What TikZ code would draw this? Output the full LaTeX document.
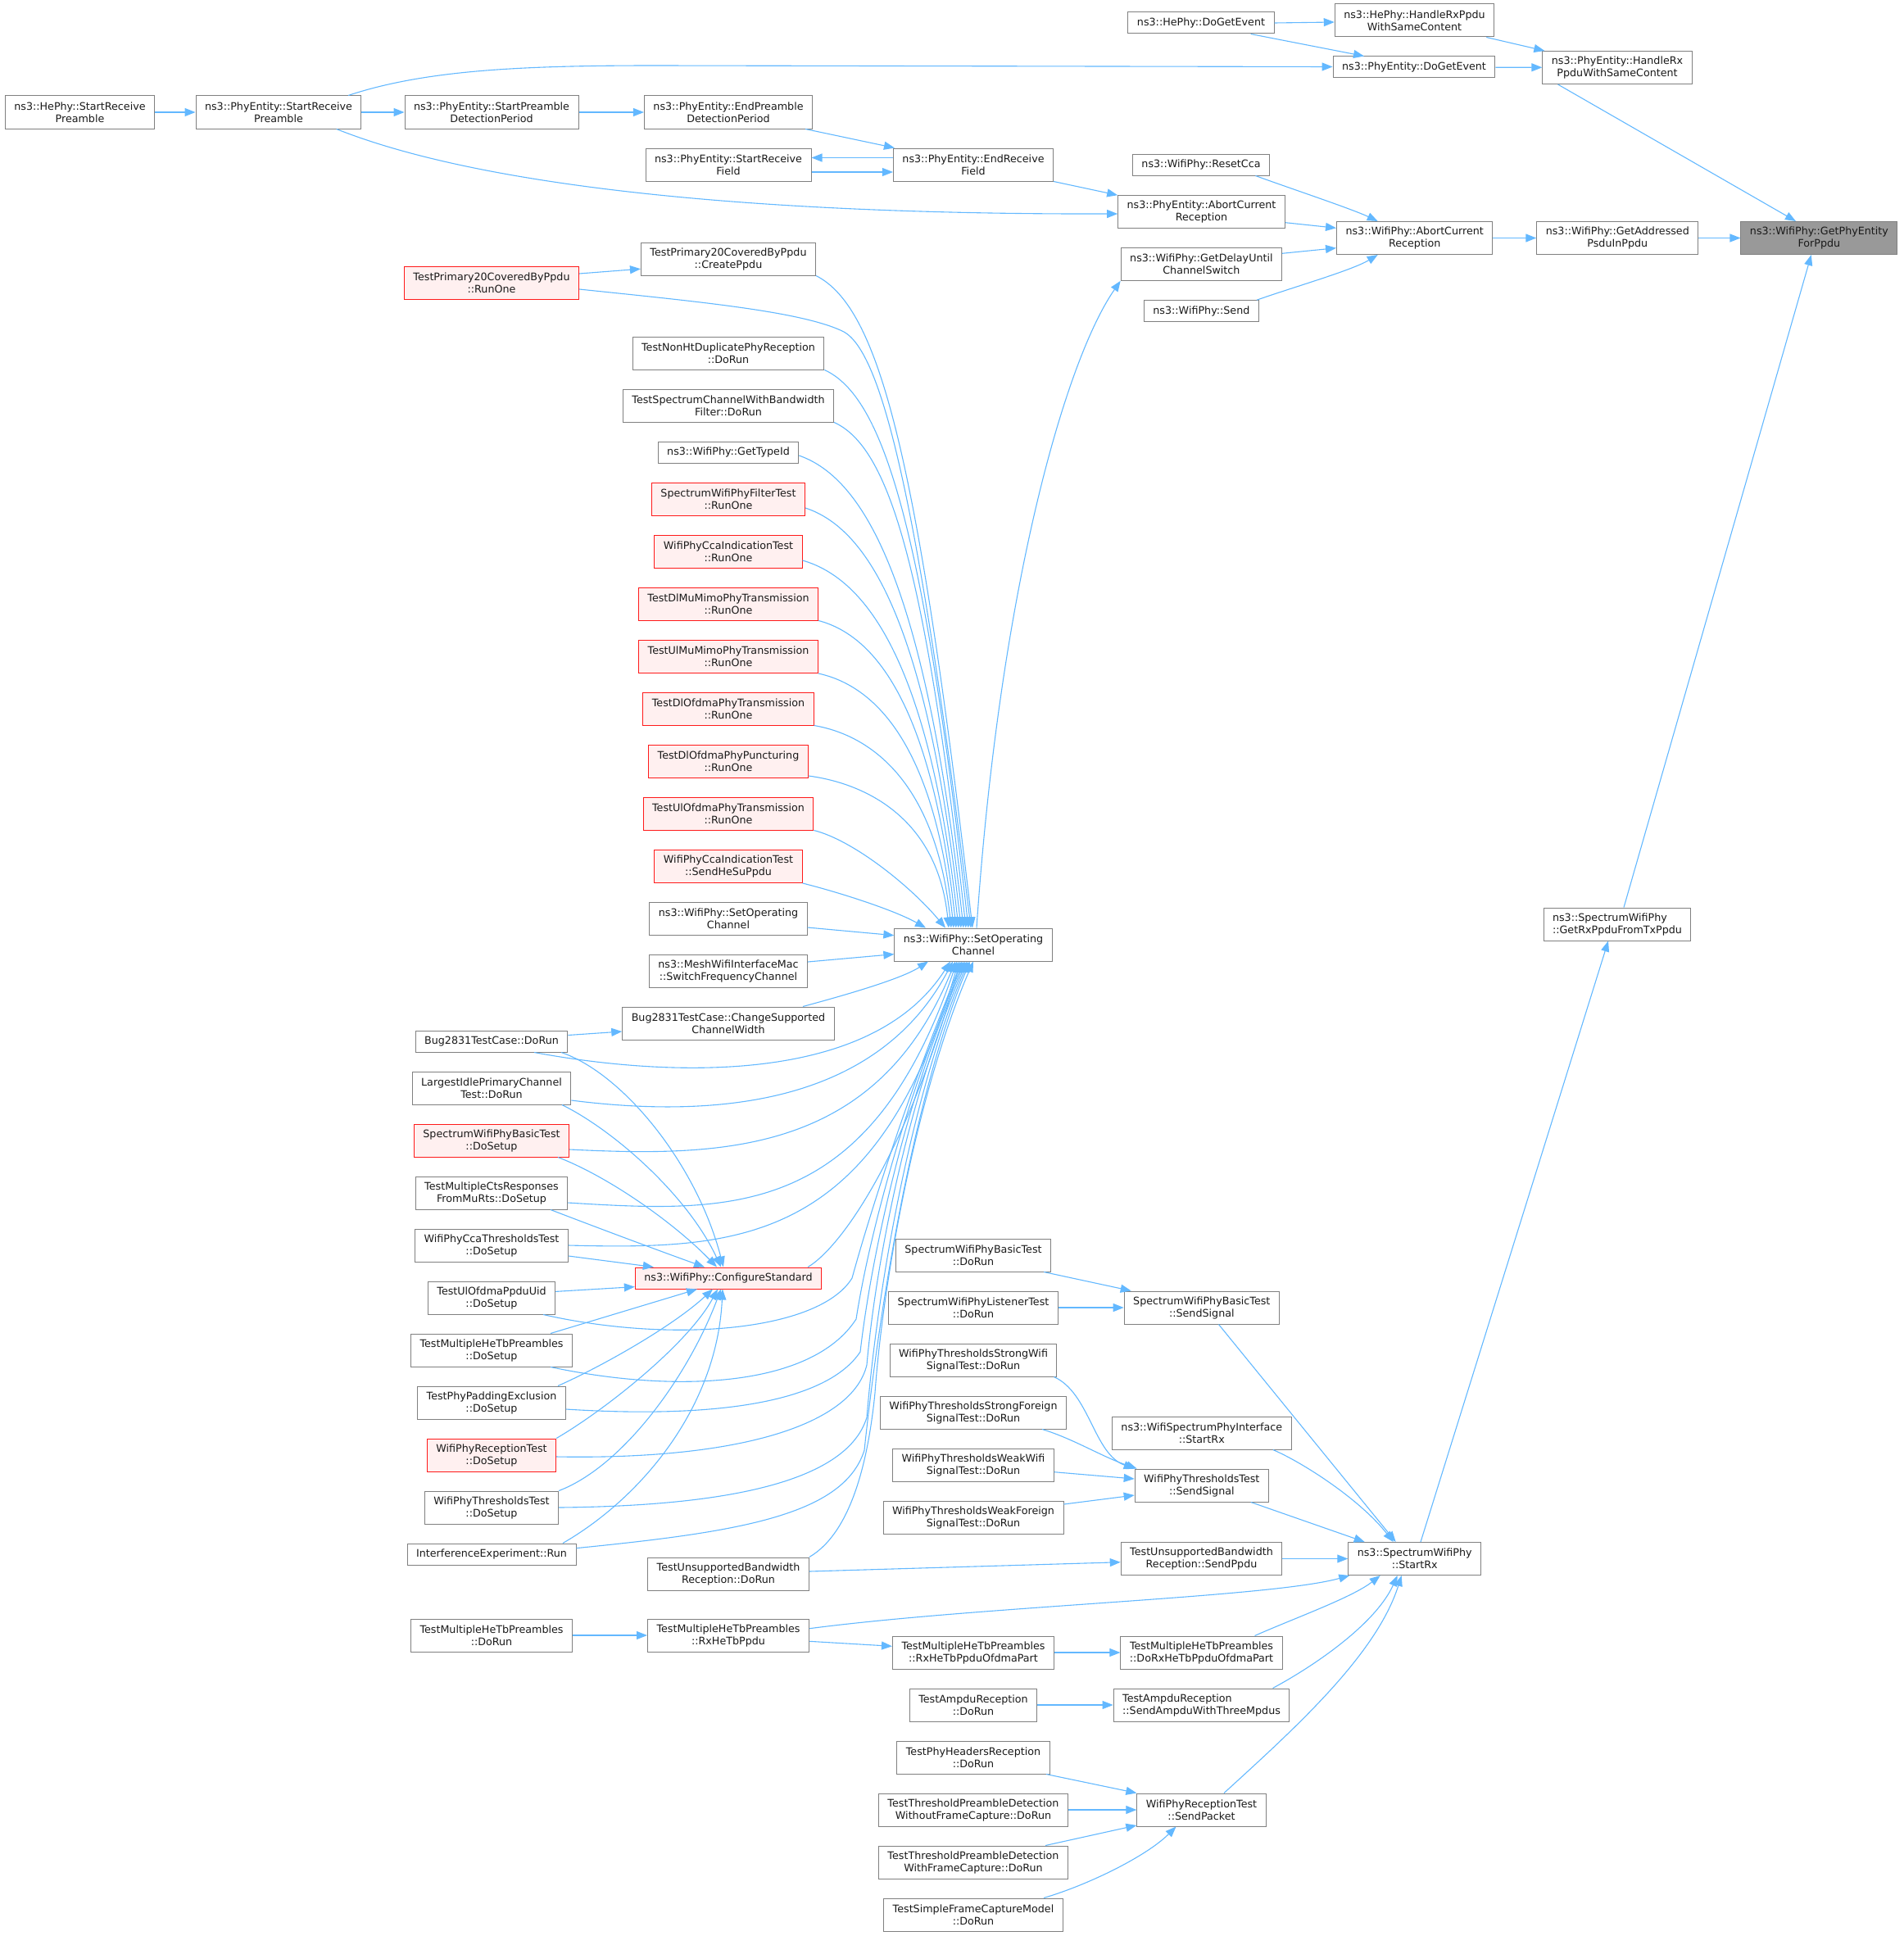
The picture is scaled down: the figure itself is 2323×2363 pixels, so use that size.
\documentclass[tikz,border=0pt]{standalone}
\usepackage{fontspec}
\setmainfont{DejaVu Sans}
\usetikzlibrary{arrows.meta,calc}
\definecolor{edgeblue}{HTML}{63B8FF}
\definecolor{boxgray}{HTML}{808080}
\definecolor{hotfill}{HTML}{FFF0F0}
\definecolor{hotline}{HTML}{FF1A1A}
\definecolor{tgtfill}{HTML}{999999}
\definecolor{txt}{HTML}{1A1A1A}
\begin{document}
\begin{tikzpicture}[x=1pt,y=1pt,
 box/.style={draw=boxgray,fill=white,line width=1pt,inner xsep=11pt,inner ysep=0pt,minimum height=40pt,align=center,text=txt,font=\fontsize{12.7}{15}\selectfont},
 one/.style={minimum height=26pt},
 hot/.style={draw=hotline,fill=hotfill},
 tgtbox/.style={fill=tgtfill},
 lft/.style={align=left},
 e/.style={draw=edgeblue,line width=1.1pt,-{Triangle[length=13pt,width=10pt]}}]
\useasboundingbox (0,0) rectangle (2323,-2363);
% ---------- top part
\node[box] (hsrp) at (97.5,-137) {ns3::HePhy::StartReceive\\Preamble};
\node[box] (psrp) at (340,-137) {ns3::PhyEntity::StartReceive\\Preamble};
\node[box] (spdp) at (600,-137) {ns3::PhyEntity::StartPreamble\\DetectionPeriod};
\node[box] (epdp) at (889,-137) {ns3::PhyEntity::EndPreamble\\DetectionPeriod};
\node[box] (srf) at (889,-201) {ns3::PhyEntity::StartReceive\\Field};
\node[box] (erf) at (1188,-201) {ns3::PhyEntity::EndReceive\\Field};
\node[box,one] (hdge) at (1466,-28) {ns3::HePhy::DoGetEvent};
\node[box] (hhrx) at (1726.5,-25) {ns3::HePhy::HandleRxPpdu\\WithSameContent};
\node[box,one] (pdge) at (1726,-82) {ns3::PhyEntity::DoGetEvent};
\node[box] (phrx) at (1974,-82.5) {ns3::PhyEntity::HandleRx\\PpduWithSameContent};
\node[box,one] (rcca) at (1466,-201) {ns3::WifiPhy::ResetCca};
\node[box] (pacr) at (1466.5,-258.7) {ns3::PhyEntity::AbortCurrent\\Reception};
\node[box] (wacr) at (1726.7,-290.5) {ns3::WifiPhy::AbortCurrent\\Reception};
\node[box] (gapp) at (1974.3,-290.5) {ns3::WifiPhy::GetAddressed\\PsduInPpdu};
\node[box,tgtbox] (tgt) at (2220.4,-290.5) {ns3::WifiPhy::GetPhyEntity\\ForPpdu};
\node[box] (gdcs) at (1466.4,-322.3) {ns3::WifiPhy::GetDelayUntil\\ChannelSwitch};
\node[box,one] (send) at (1466.4,-379.7) {ns3::WifiPhy::Send};
\node[box,lft] (grx) at (1974,-1128) {ns3::SpectrumWifiPhy\\::GetRxPpduFromTxPpdu};
\node[box] (soc) at (1188,-1153) {ns3::WifiPhy::SetOperating\\Channel};
% ---------- column 889
\node[box] (cppdu) at (889,-316) {TestPrimary20CoveredByPpdu\\::CreatePpdu};
\node[box] (nonht) at (889,-431) {TestNonHtDuplicatePhyReception\\::DoRun};
\node[box] (specbw) at (889,-495) {TestSpectrumChannelWithBandwidth\\Filter::DoRun};
\node[box,one] (gtid) at (889,-552) {ns3::WifiPhy::GetTypeId};
\node[box,hot] (filt) at (889,-609) {SpectrumWifiPhyFilterTest\\::RunOne};
\node[box,hot] (ccaro) at (889,-673.5) {WifiPhyCcaIndicationTest\\::RunOne};
\node[box,hot] (dlmu) at (889,-737) {TestDlMuMimoPhyTransmission\\::RunOne};
\node[box,hot] (ulmu) at (889,-801.5) {TestUlMuMimoPhyTransmission\\::RunOne};
\node[box,hot] (dlof) at (889,-865) {TestDlOfdmaPhyTransmission\\::RunOne};
\node[box,hot] (dlpu) at (889,-929.5) {TestDlOfdmaPhyPuncturing\\::RunOne};
\node[box,hot] (ulof) at (889,-993) {TestUlOfdmaPhyTransmission\\::RunOne};
\node[box,hot] (hesu) at (889,-1057.5) {WifiPhyCcaIndicationTest\\::SendHeSuPpdu};
\node[box] (soc2) at (889,-1121) {ns3::WifiPhy::SetOperating\\Channel};
\node[box] (mesh) at (889,-1185) {ns3::MeshWifiInterfaceMac\\::SwitchFrequencyChannel};
\node[box] (bugcw) at (889,-1249) {Bug2831TestCase::ChangeSupported\\ChannelWidth};
\node[box,hot,one] (cfg) at (889,-1560) {ns3::WifiPhy::ConfigureStandard};
\node[box] (unsdr) at (889,-1921) {TestUnsupportedBandwidth\\Reception::DoRun};
\node[box] (rxtb) at (889,-1996) {TestMultipleHeTbPreambles\\::RxHeTbPpdu};
% ---------- column 600
\node[box,hot] (pr1) at (600,-345) {TestPrimary20CoveredByPpdu\\::RunOne};
\node[box,one] (bugdr) at (600,-1271) {Bug2831TestCase::DoRun};
\node[box] (lipc) at (600,-1328) {LargestIdlePrimaryChannel\\Test::DoRun};
\node[box,hot] (sbds) at (600,-1392) {SpectrumWifiPhyBasicTest\\::DoSetup};
\node[box] (mcts) at (600,-1456) {TestMultipleCtsResponses\\FromMuRts::DoSetup};
\node[box] (ccth) at (600,-1520) {WifiPhyCcaThresholdsTest\\::DoSetup};
\node[box] (uluid) at (600,-1584) {TestUlOfdmaPpduUid\\::DoSetup};
\node[box] (mhds) at (600,-1648) {TestMultipleHeTbPreambles\\::DoSetup};
\node[box] (ppad) at (600,-1712) {TestPhyPaddingExclusion\\::DoSetup};
\node[box,hot] (rtds) at (600,-1776) {WifiPhyReceptionTest\\::DoSetup};
\node[box] (thds) at (600,-1840) {WifiPhyThresholdsTest\\::DoSetup};
\node[box,one] (iexp) at (600,-1897) {InterferenceExperiment::Run};
\node[box] (mhdr) at (600,-1996) {TestMultipleHeTbPreambles\\::DoRun};
% ---------- column 1188
\node[box] (sbdr) at (1188,-1532) {SpectrumWifiPhyBasicTest\\::DoRun};
\node[box] (sldr) at (1188,-1596) {SpectrumWifiPhyListenerTest\\::DoRun};
\node[box] (tsw) at (1188,-1660) {WifiPhyThresholdsStrongWifi\\SignalTest::DoRun};
\node[box] (tsf) at (1188,-1724) {WifiPhyThresholdsStrongForeign\\SignalTest::DoRun};
\node[box] (tww) at (1188,-1788) {WifiPhyThresholdsWeakWifi\\SignalTest::DoRun};
\node[box] (twf) at (1188,-1852) {WifiPhyThresholdsWeakForeign\\SignalTest::DoRun};
\node[box] (rxofp) at (1188,-2017) {TestMultipleHeTbPreambles\\::RxHeTbPpduOfdmaPart};
\node[box] (ampdr) at (1188,-2081) {TestAmpduReception\\::DoRun};
\node[box] (phdr) at (1188,-2145) {TestPhyHeadersReception\\::DoRun};
\node[box] (tpwo) at (1188,-2209) {TestThresholdPreambleDetection\\WithoutFrameCapture::DoRun};
\node[box] (tpwi) at (1188,-2273) {TestThresholdPreambleDetection\\WithFrameCapture::DoRun};
\node[box] (sfcm) at (1188,-2337) {TestSimpleFrameCaptureModel\\::DoRun};
% ---------- column 1466
\node[box] (sbss) at (1466.8,-1596) {SpectrumWifiPhyBasicTest\\::SendSignal};
\node[box] (wspi) at (1466.8,-1749) {ns3::WifiSpectrumPhyInterface\\::StartRx};
\node[box] (thss) at (1466.8,-1813) {WifiPhyThresholdsTest\\::SendSignal};
\node[box] (unsp) at (1466.5,-1902.5) {TestUnsupportedBandwidth\\Reception::SendPpdu};
\node[box] (drxo) at (1466.5,-2017) {TestMultipleHeTbPreambles\\::DoRxHeTbPpduOfdmaPart};
\node[box,lft] (ampsd) at (1466.5,-2081) {TestAmpduReception\\::SendAmpduWithThreeMpdus};
\node[box] (spkt) at (1466.5,-2209) {WifiPhyReceptionTest\\::SendPacket};
\node[box] (srx) at (1726.7,-1902.5) {ns3::SpectrumWifiPhy\\::StartRx};

% ================= edges: top
\draw[e] (hsrp) -- (psrp);
\draw[e] (psrp) -- (spdp);
\draw[e] (spdp) -- (epdp);
\draw[e] ([xshift=-9pt]epdp.south east) -- ([xshift=2pt]erf.north west);
\draw[e] ([yshift=8.5pt]erf.west) -- ([yshift=8.5pt]srf.east);
\draw[e] ([yshift=-9pt]srf.east) -- ([yshift=-9pt]erf.west);
\draw[e] (erf.south east) -- (pacr.north west);
\draw[e] ([xshift=70.7pt]psrp.south) .. controls (580,-225) and (900,-262) .. ([yshift=-2.3pt]pacr.west);
\draw[e] ([xshift=85pt]psrp.north) .. controls (520,-85) and (640,-80) .. (800,-80) -- ([yshift=0.5pt]pdge.west);
\draw[e] (hdge.east) -- ([yshift=-2pt]hhrx.west);
\draw[e] ([xshift=60.6pt]hdge.south) -- ([xshift=-61pt]pdge.north);
\draw[e] (pdge) -- (phrx);
\draw[e] ([xshift=-10pt]hhrx.south east) -- ([xshift=3pt]phrx.north west);
\draw[e] ([xshift=-72.5pt]phrx.south) -- ([xshift=-28.4pt]tgt.north);
\draw[e] (gapp) -- (tgt);
\draw[e] (wacr) -- (gapp);
\draw[e] ([xshift=66.4pt]rcca.south) .. controls (1575,-230) and (1650,-255) .. ([xshift=-45pt]wacr.north);
\draw[e] ([yshift=-13pt]pacr.east) -- ([yshift=12.2pt]wacr.west);
\draw[e] ([yshift=13pt]gdcs.east) -- ([yshift=-12.2pt]wacr.west);
\draw[e] ([xshift=67.6pt]send.north) .. controls (1580,-350) and (1650,-330) .. ([xshift=-45pt]wacr.south);
\draw[e] ([xshift=4pt]soc.north) .. controls (1220,-720) and (1300,-440) .. (gdcs.south west);

% ================= edges: fan into SetOperatingChannel (top)
\draw[e] ([yshift=11pt]pr1.east) -- ([yshift=-12.2pt]cppdu.west);
\draw[e] (cppdu.south east) .. controls (1074,-376) and (1120,-559) .. ([xshift=-1pt]soc.north);
\draw[e] ([yshift=-8pt]pr1.east) .. controls (850,-368) and (980,-380) .. (1030,-405) .. controls (1075,-430) and (1120,-600) .. ([xshift=-3pt]soc.north);
\draw[e] (nonht.south east) .. controls (1078,-484.5) and (1127,-641.5) .. ([xshift=-6pt]soc.north);
\draw[e] (specbw.south east) .. controls (1084.7,-545.7) and (1129,-688) .. ([xshift=-9pt]soc.north);
\draw[e] ([yshift=-4pt]gtid.east) .. controls (1057,-584.5) and (1129.5,-717) .. ([xshift=-12pt]soc.north);
\draw[e] ([yshift=-11pt]filt.east) .. controls (1061,-645.6) and (1132,-763.6) .. ([xshift=-15pt]soc.north);
\draw[e] ([yshift=-10.5pt]ccaro.east) .. controls (1058,-706.5) and (1134,-809.7) .. ([xshift=-18pt]soc.north);
\draw[e] (dlmu.south east) .. controls (1069,-776) and (1137.4,-862) .. ([xshift=-21pt]soc.north);
\draw[e] (ulmu.south east) .. controls (1068,-837) and (1140,-908.6) .. ([xshift=-24pt]soc.north);
\draw[e] (dlof.south east) .. controls (1063,-897.4) and (1142,-954.4) .. ([xshift=-27pt]soc.north);
\draw[e] ([yshift=-17.5pt]dlpu.east) .. controls (1057,-956.3) and (1144.4,-999) .. ([xshift=-30pt]soc.north);
\draw[e] (ulof.south east) .. controls (1040,-1025) and (1110,-1080) .. ([xshift=-34pt]soc.north);
\draw[e] (hesu.south east) .. controls (1020,-1088) and (1090,-1110) .. ([xshift=-58pt]soc.north);
\draw[e] ([yshift=-11pt]soc2.east) -- ([yshift=11.3pt]soc.west);
\draw[e] ([yshift=11pt]mesh.east) -- ([yshift=-11.6pt]soc.west);
\draw[e] ([xshift=91pt]bugcw.north) .. controls (1030,-1215) and (1100,-1195) .. ([xshift=-55pt]soc.south);

% ================= edges: column 600 -> SetOperatingChannel / ConfigureStandard
\draw[e] ([yshift=7.5pt]bugdr.east) -- ([yshift=-10pt]bugcw.west);
\draw[e] ([xshift=52pt]bugdr.south) .. controls (800,-1312) and (1060,-1330) .. ([xshift=-28pt]soc.south);
\draw[e] ([xshift=85pt]bugdr.south) .. controls (760,-1310) and (850,-1420) .. ([xshift=-6pt]cfg.north);
\draw[e] ([yshift=-15pt]lipc.east) .. controls (870,-1365) and (1070,-1350) .. ([xshift=-25pt]soc.south);
\draw[e] ([xshift=86pt]lipc.south) .. controls (750,-1380) and (840,-1460) .. ([xshift=-9pt]cfg.north);
\draw[e] ([yshift=-11pt]sbds.east) .. controls (880,-1412) and (1070,-1410) .. ([xshift=-22pt]soc.south);
\draw[e] ([xshift=81pt]sbds.south) .. controls (740,-1435) and (820,-1490) .. ([xshift=-14pt]cfg.north);
\draw[e] ([yshift=-12pt]mcts.east) .. controls (890,-1480) and (1060,-1490) .. ([xshift=-20pt]soc.south);
\draw[e] ([xshift=72pt]mcts.south) .. controls (720,-1495) and (800,-1525) .. ([xshift=-29pt]cfg.north);
\draw[e] (ccth.east) .. controls (900,-1525) and (1070,-1520) .. ([xshift=-18pt]soc.south);
\draw[e] ([yshift=-13pt]ccth.east) -- ([xshift=23pt]cfg.north west);
\draw[e] ([xshift=-17pt]cfg.north east) .. controls (1030,-1520) and (1110,-1400) .. ([xshift=-16pt]soc.south);
\draw[e] ([yshift=7.6pt]uluid.east) -- ([yshift=-10.6pt]cfg.west);
\draw[e] ([xshift=63pt]uluid.south) .. controls (820,-1640) and (1000,-1625) .. (1040,-1560) .. controls (1062,-1480) and (1110,-1330) .. ([xshift=-14pt]soc.south);
\draw[e] ([xshift=72pt]mhds.north) -- ([xshift=-38pt]cfg.south);
\draw[e] ([xshift=72pt]mhds.south) .. controls (820,-1700) and (990,-1695) .. (1045,-1610) .. controls (1062,-1500) and (1110,-1330) .. ([xshift=-12pt]soc.south);
\draw[e] ([xshift=81pt]ppad.north) .. controls (730,-1670) and (820,-1620) .. ([xshift=-19pt]cfg.south);
\draw[e] ([yshift=-8pt]ppad.east) .. controls (880,-1732) and (1010,-1710) .. (1050,-1650) .. controls (1065,-1520) and (1110,-1330) .. ([xshift=-10pt]soc.south);
\draw[e] (rtds.north east) .. controls (740,-1720) and (840,-1640) .. ([xshift=-13pt]cfg.south);
\draw[e] ([yshift=-2pt]rtds.east) .. controls (900,-1782) and (1040,-1740) .. (1058,-1666) .. controls (1070,-1530) and (1112,-1330) .. ([xshift=-8pt]soc.south);
\draw[e] (thds.north east) .. controls (760,-1790) and (840,-1680) .. ([xshift=-9pt]cfg.south);
\draw[e] (thds.east) .. controls (900,-1838) and (1035,-1805) .. (1058,-1730) .. controls (1072,-1560) and (1115,-1330) .. ([xshift=-6pt]soc.south);
\draw[e] ([xshift=87pt]iexp.north) .. controls (780,-1830) and (875,-1720) .. ([xshift=-7pt]cfg.south);
\draw[e] ([yshift=7.4pt]iexp.east) .. controls (900,-1870) and (1030,-1850) .. (1055,-1770) .. controls (1075,-1580) and (1118,-1330) .. ([xshift=-4pt]soc.south);
\draw[e] (unsdr.north east) .. controls (1040,-1870) and (1060,-1780) .. (1068,-1700) .. controls (1078,-1560) and (1120,-1330) .. (soc.south);

% ================= edges: StartRx region
\draw[e] ([yshift=3pt]unsdr.east) -- ([yshift=-4.2pt]unsp.west);
\draw[e] (unsp) -- (srx);
\draw[e] ([xshift=7.3pt]srx.north) -- ([xshift=-11pt]grx.south);
\draw[e] ([xshift=8pt]grx.north) -- ([xshift=-9.6pt]tgt.south);
\draw[e] ([xshift=-9pt]sbdr.south east) -- ([xshift=9pt]sbss.north west);
\draw[e] (sldr) -- (sbss);
\draw[e] ([xshift=20.7pt]sbss.south) -- ([xshift=-23pt]srx.north);
\draw[e] ([xshift=87pt]wspi.south) .. controls (1590,-1785) and (1660,-1830) .. ([xshift=-26pt]srx.north);
\draw[e] ([xshift=60pt]thss.south) -- ([xshift=-61pt]srx.north);
\draw[e] ([xshift=-4pt]tsw.south east) .. controls (1330,-1700) and (1335,-1775) .. (thss.north west);
\draw[e] ([xshift=-30pt]tsf.south east) .. controls (1310,-1756) and (1345,-1778) .. ([xshift=3pt]thss.north west);
\draw[e] ([yshift=-8.7pt]tww.east) -- ([yshift=8pt]thss.west);
\draw[e] ([yshift=16pt]twf.east) -- ([yshift=-12pt]thss.west);
\draw[e] ([yshift=8.3pt]rxtb.east) .. controls (1200,-1960) and (1550,-1950) .. ([xshift=2pt]srx.south west);
\draw[e] (mhdr) -- (rxtb);
\draw[e] ([yshift=-7.3pt]rxtb.east) -- ([yshift=7.7pt]rxofp.west);
\draw[e] (rxofp) -- (drxo);
\draw[e] ([xshift=65pt]drxo.north) .. controls (1580,-1975) and (1650,-1950) .. ([xshift=-42pt]srx.south);
\draw[e] (ampdr) -- (ampsd);
\draw[e] ([xshift=87pt]ampsd.north) .. controls (1610,-2030) and (1680,-1980) .. ([xshift=-21pt]srx.south);
\draw[e] ([xshift=27.5pt]spkt.north) .. controls (1580,-2110) and (1680,-2020) .. ([xshift=-16pt]srx.south);
\draw[e] ([xshift=-4.6pt]phdr.south east) -- (spkt.north west);
\draw[e] (tpwo) -- (spkt);
\draw[e] ([xshift=-28pt]tpwi.north east) -- ([yshift=1.6pt]spkt.south west);
\draw[e] ([xshift=86pt]sfcm.north) .. controls (1330,-2300) and (1400,-2265) .. ([xshift=-31pt]spkt.south);
\end{tikzpicture}
\end{document}
